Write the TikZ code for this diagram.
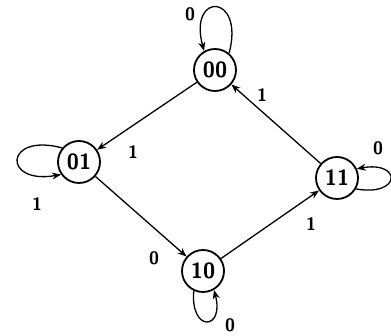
\documentclass[tikz,border=0pt]{standalone}
\usetikzlibrary{arrows.meta}
\begin{document}
\begin{tikzpicture}[x=1pt,y=1pt,>={Stealth[length=9pt,width=7pt]},
  state/.style={draw,circle,line width=1.8pt,minimum size=42pt,inner sep=0pt,
    font=\fontsize{22}{22}\selectfont\sffamily\bfseries},
  trans/.style={->,line width=1.3pt},
  lbl/.style={font=\fontsize{18}{18}\selectfont\sffamily\bfseries}]
  \useasboundingbox (0,0) rectangle (391,336);
  \node[state] (s00) at (215,266) {00};
  \node[state] (s01) at (79,174) {01};
  \node[state] (s11) at (337,158) {11};
  \node[state] (s10) at (203,65) {10};
  % transitions
  \draw[trans] (s00) -- (s01);
  \draw[trans] (s01) -- (s10);
  \draw[trans] (s10) -- (s11);
  \draw[trans] (s11) -- (s00);
  % self loops
  \draw[trans] (s00.50) .. controls +(75:62) and +(105:62) .. (s00.120);
  \draw[trans] (s01.140) .. controls +(165:60) and +(190:60) .. (s01.215);
  \draw[trans] (s10.245) .. controls +(265:42) and +(285:42) .. (s10.300);
  \draw[trans] (s11.330) .. controls +(350:46) and +(10:46) .. (s11.25);
  % labels
  \node[lbl] (l00) at (190,322) {0};
  \node[lbl] (l0001) at (133,184) {1};
  \node[lbl] (l1100) at (262,241) {1};
  \node[lbl] (l01) at (37,132) {1};
  \node[lbl] (l11) at (378,188) {0};
  \node[lbl] (l0110) at (154,78) {0};
  \node[lbl] (l1011) at (311,112) {1};
  \node[lbl] (l10) at (230,11) {0};
\end{tikzpicture}
\end{document}
